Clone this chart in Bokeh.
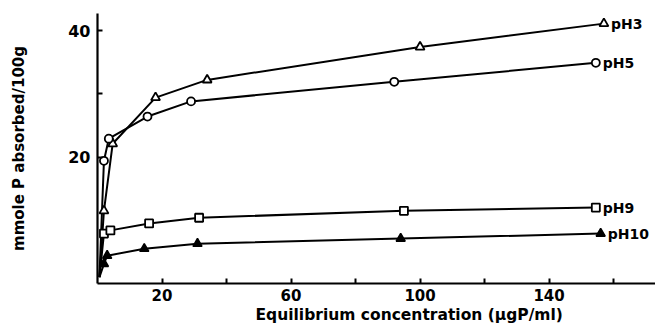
from bokeh.plotting import figure
from bokeh.models import Range1d, FixedTicker, ColumnDataSource, Title
from bokeh.core.properties import value
from bokeh.embed import file_html
from bokeh.resources import INLINE

# Equilibrium concentration (µgP/ml) and P absorbed (mmole/100 g) per pH
ph3_x = [2, 4.7, 18, 34, 100, 157]
ph3_y = [11.5, 22.1, 29.4, 32.2, 37.4, 41.1]
ph5_x = [2, 3.5, 15.5, 29, 92, 154.5]
ph5_y = [19.4, 22.9, 26.4, 28.8, 31.9, 34.9]
ph9_x = [2, 4, 16, 31.5, 95, 154.5]
ph9_y = [7.9, 8.4, 9.5, 10.4, 11.5, 12.0]
ph10_x = [2, 3, 14.5, 31, 94, 156]
ph10_y = [3.1, 4.4, 5.5, 6.3, 7.1, 7.9]

# where each drawn curve leaves the axis
curve_start_x = 0.6
curve_start_y = 1.0

series_names = ["pH3", "pH5", "pH9", "pH10"]

x_ticks = [20, 40, 60, 80, 100, 120, 140, 160]
x_tick_labels = {20: "20", 40: "", 60: "60", 80: "", 100: "100", 120: "", 140: "140", 160: ""}
y_ticks = [20, 30, 40]
y_tick_labels = {20: "20", 30: "", 40: "40"}
x_title = "Equilibrium  concentration (\u03bcgP/ml)"
y_title = "mmole P absorbed/100g"

FONT = "DejaVu Sans"

p = figure(width=655, height=328, output_backend="svg", toolbar_location=None,
           x_range=Range1d(0, 173), y_range=Range1d(0, 42.7),
           min_border_left=97, min_border_right=0, min_border_top=13, min_border_bottom=45)
p.outline_line_color = None
p.xgrid.visible = False
p.ygrid.visible = False
p.background_fill_color = "white"
p.border_fill_color = "white"

for ax in (p.xaxis, p.yaxis):
    ax.axis_line_color = "black"
    ax.axis_line_width = 2.2
    ax.major_tick_line_color = "black"
    ax.major_tick_line_width = 2
    ax.major_tick_in = 5
    ax.major_tick_out = 0
    ax.minor_tick_line_color = None
    ax.major_label_text_font = FONT
    ax.major_label_text_font_style = "bold"
    ax.major_label_text_color = "black"
    ax.axis_label_text_font = FONT
    ax.axis_label_text_font_style = "bold"
    ax.axis_label_text_color = "black"

p.xaxis.ticker = FixedTicker(ticks=x_ticks)
p.xaxis.major_label_overrides = x_tick_labels
p.xaxis.major_label_text_font_size = "15px"
p.xaxis.major_label_standoff = 5

p.yaxis.ticker = FixedTicker(ticks=y_ticks)
p.yaxis.major_label_overrides = y_tick_labels
p.yaxis.major_label_text_font_size = "16px"
p.yaxis.major_label_standoff = 7
p.yaxis.axis_label = y_title
p.yaxis.axis_label_text_font_size = "15px"
p.yaxis.axis_label_standoff = 37

# x-axis title, set a little right of the frame centre
p.add_layout(Title(text=x_title, align="left", offset=158, standoff=0,
                   text_font=FONT, text_font_style="bold",
                   text_font_size="15.5px", text_color="black"), "below")

xs_all = [ph3_x, ph5_x, ph9_x, ph10_x]
ys_all = [ph3_y, ph5_y, ph9_y, ph10_y]

# curves
for xs, ys in zip(xs_all, ys_all):
    p.line([curve_start_x] + xs, [curve_start_y] + ys, line_color="black", line_width=2)

# markers
p.scatter(ph3_x, ph3_y, marker="triangle", size=9, fill_color="white",
          line_color="black", line_width=1.8)
p.scatter(ph5_x, ph5_y, marker="circle", size=8, fill_color="white",
          line_color="black", line_width=1.8)
p.scatter(ph9_x, ph9_y, marker="square", size=8, fill_color="white",
          line_color="black", line_width=1.8)
p.scatter(ph10_x, ph10_y, marker="triangle", size=9, fill_color="black",
          line_color="black", line_width=1.5)

# series labels at the end of each curve
lab = ColumnDataSource(dict(
    x=[xs[-1] for xs in xs_all],
    y=[ys[-1] for ys in ys_all],
    t=series_names,
))
p.text("x", "y", text="t", source=lab, x_offset=7, text_baseline="middle",
       text_font=value(FONT), text_font_style="bold", text_font_size="14px",
       text_color="black")

open("out.html", "w").write(file_html(p, INLINE))
